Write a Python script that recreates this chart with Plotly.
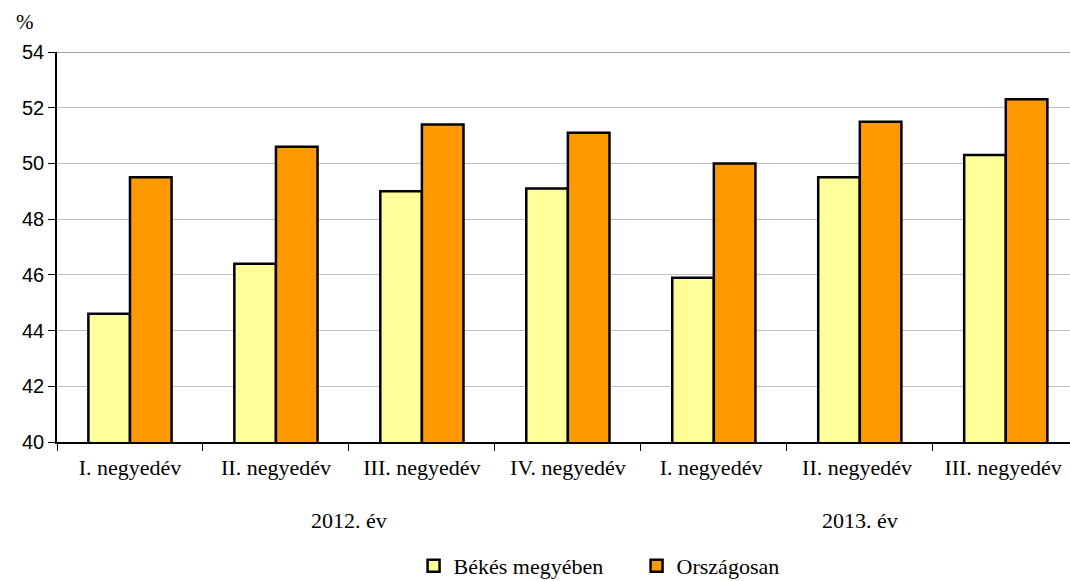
import plotly.graph_objects as go

# Quarter labels and the two series (percent)
quarters = ["I. negyedév", "II. negyedév", "III. negyedév", "IV. negyedév",
            "I. negyedév ", "II. negyedév ", "III. negyedév "]
bekes = [44.6, 46.4, 49.0, 49.1, 45.9, 49.5, 50.3]
orszagos = [49.5, 50.6, 51.4, 51.1, 50.0, 51.5, 52.3]
years = ["2012. év", "2013. év"]
y_ticks = [40, 42, 44, 46, 48, 50, 52, 54]

serif = "Liberation Serif"
sans = "Liberation Sans"

fig = go.Figure()

fig.add_trace(go.Bar(
    x=quarters, y=bekes, name="Békés megyében",
    marker=dict(color="#ffff99", line=dict(color="black", width=2.5)),
))
fig.add_trace(go.Bar(
    x=quarters, y=orszagos, name="Országosan",
    marker=dict(color="#ff9900", line=dict(color="black", width=2.5)),
))

# year labels under the quarter groups
fig.add_annotation(x=1.5, y=-0.2, xref="x", yref="paper", text=years[0],
                   showarrow=False, yanchor="middle",
                   font=dict(family=serif, size=22, color="black"))
fig.add_annotation(x=5, y=-0.2, xref="x", yref="paper", text=years[1],
                   showarrow=False, yanchor="middle",
                   font=dict(family=serif, size=22, color="black"))

# unit label
fig.add_annotation(x=-0.0316, y=1.077, xref="paper", yref="paper", text="%",
                   showarrow=False, xanchor="center", yanchor="middle",
                   font=dict(family=serif, size=21, color="black"))

# darker top line at the maximum
fig.add_shape(type="line", xref="paper", yref="y", x0=0, x1=1, y0=54, y1=54,
              line=dict(color="#808080", width=1.5))

fig.update_layout(
    width=1070, height=581,
    margin=dict(l=57, r=0, t=52, b=139, autoexpand=False),
    plot_bgcolor="white", paper_bgcolor="white",
    barmode="group", bargap=0.43, bargroupgap=0,
    showlegend=True,
    legend=dict(orientation="h", x=0.352, y=-0.318, xanchor="left", yanchor="middle",
                font=dict(family=serif, size=22, color="black"),
                itemwidth=30, traceorder="normal",
                entrywidth=178, entrywidthmode="pixels"),
    xaxis=dict(
        range=[-0.5, 6.44], showline=True, linecolor="black", linewidth=1.5,
        ticks="outside", ticklen=7, tickcolor="black", tickson="boundaries",
        tickfont=dict(family=serif, size=22, color="black"),
        ticklabelstandoff=5,
        showgrid=False, automargin=False,
    ),
    yaxis=dict(
        range=[40, 54], tickvals=y_ticks, showline=True, linecolor="black",
        linewidth=1.5, ticks="outside", ticklen=7, tickcolor="black",
        tickfont=dict(family=sans, size=20, color="black"),
        showgrid=True, gridcolor="#c0c0c0", gridwidth=1, zeroline=False,
        automargin=False,
    ),
)

# page has a default 8px body margin; drop it so the figure fills the window
fig.write_html("out.html", post_script="document.body.style.margin='0';",
               config={"displayModeBar": False})
